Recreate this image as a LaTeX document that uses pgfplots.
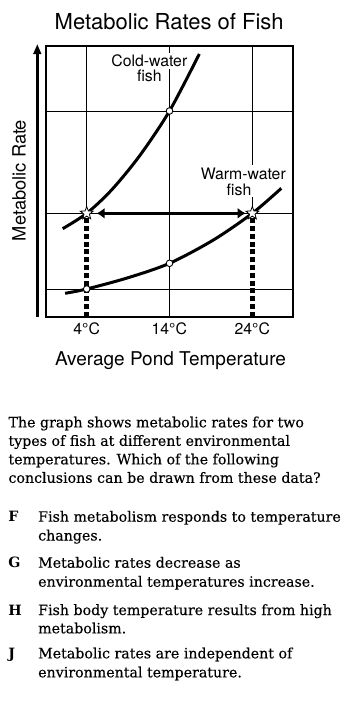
\documentclass[border=0pt]{standalone}
\usepackage{fontspec}
\setmainfont{DejaVu Serif}[UprightFeatures={FakeBold=0.3}]
\newfontfamily\hel{TeX Gyre Heros}
\usepackage{pgfplots}
\pgfplotsset{compat=1.18}
\usetikzlibrary{arrows.meta}

\pgfdeclareplotmark{fstar}{%
 \pgfpathmoveto{\pgfpointpolar{90}{\pgfplotmarksize}}%
 \pgfpathlineto{\pgfpointpolar{126}{0.42\pgfplotmarksize}}%
 \pgfpathlineto{\pgfpointpolar{162}{\pgfplotmarksize}}%
 \pgfpathlineto{\pgfpointpolar{198}{0.42\pgfplotmarksize}}%
 \pgfpathlineto{\pgfpointpolar{234}{\pgfplotmarksize}}%
 \pgfpathlineto{\pgfpointpolar{270}{0.42\pgfplotmarksize}}%
 \pgfpathlineto{\pgfpointpolar{306}{\pgfplotmarksize}}%
 \pgfpathlineto{\pgfpointpolar{342}{0.42\pgfplotmarksize}}%
 \pgfpathlineto{\pgfpointpolar{18}{\pgfplotmarksize}}%
 \pgfpathlineto{\pgfpointpolar{54}{0.42\pgfplotmarksize}}%
 \pgfpathclose
 \pgfusepathqfillstroke}

\newcommand\tx{\fontsize{14.2}{18.5}\selectfont}
\newcommand\lab{\hel\fontsize{15.8}{18}\selectfont}

\begin{document}
\begin{tikzpicture}
\path[use as bounding box] (0pt,0pt) rectangle (356pt,-704pt);
\begin{axis}[at={(46pt,-316.7pt)}, anchor=south west, scale only axis,
  width=247pt, height=271pt,
  xmin=-0.915, xmax=28.915, ymin=0, ymax=27.1,
  xtick={4,14,24}, ytick={2.77,10.34,20.57},
  xticklabels={}, yticklabels={}, major tick length=0pt,
  grid=major, major grid style={black, line width=0.9pt},
  axis line style={line width=2pt}, clip=false]
% white underlay hiding the grid below the stars
\addplot[white, line width=5pt] coordinates {(4,0.4) (4,10.34)};
\addplot[white, line width=5pt] coordinates {(24,0.4) (24,10.34)};
% cold-water fish
\addplot[smooth, line width=3pt] coordinates {(1.1,8.8) (4,10.34) (7.0,12.67) (10.4,16.1) (14,20.57) (17.6,26.27)};
% warm-water fish
\addplot[smooth, line width=3pt] coordinates {(1.4,2.34) (4,2.77) (9,3.9) (14,5.34) (19.3,7.67) (24,10.34) (27.5,12.84)};
% dashed drop lines
\addplot[black, line width=4.5pt, dash pattern=on 5pt off 2.8pt] coordinates {(4,0) (4,10.34)};
\addplot[black, line width=4.5pt, dash pattern=on 5pt off 2.8pt] coordinates {(24,0) (24,10.34)};
% double arrow
\addplot[line width=3.4pt, {Latex[length=8pt,width=11pt]}-{Latex[length=8pt,width=11pt]}] coordinates {(5.2,10.34) (23.2,10.34)};
% circles
\addplot[only marks, mark=*, mark size=3.3pt, mark options={fill=white, draw=black, line width=0.9pt}] coordinates {(14,20.57) (4,2.77) (14,5.34)};
% stars
\addplot[only marks, mark=fstar, mark size=6.8pt, mark options={fill=white, draw=black, line width=0.8pt}] coordinates {(4,10.34) (24,10.34)};
\end{axis}
% axis arrow
\draw[line width=2.5pt, -{Triangle[length=10pt,width=7.5pt]}] (37.3pt,-316.7pt) -- (37.3pt,-44pt);
% labels
\node[font=\hel\fontsize{22}{26}\selectfont, anchor=base] at (169.2pt,-29.3pt) {Metabolic Rates of Fish};
\node[font=\lab, anchor=base, fill=white, inner sep=2pt] at (149.3pt,-66.7pt) {Cold-water};
\node[font=\lab, anchor=base, fill=white, inner sep=2pt] at (149.3pt,-81.7pt) {fish};
\node[font=\lab, anchor=base, fill=white, inner sep=2.5pt] at (243.3pt,-179.3pt) {Warm-water};
\node[font=\lab, anchor=base, fill=white, inner sep=2pt] at (239pt,-195pt) {fish};
\node[font=\lab, anchor=base] at (86.7pt,-334pt) {4°C};
\node[font=\lab, anchor=base] at (169.3pt,-334pt) {14°C};
\node[font=\lab, anchor=base] at (252.3pt,-334pt) {24°C};
\node[font=\hel\fontsize{19}{22}\selectfont, anchor=base] at (170.5pt,-365pt) {Average Pond Temperature};
\node[font=\hel\fontsize{18.3}{21}\selectfont, anchor=base, rotate=90] at (25.5pt,-180.5pt) {Metabolic Rate};
% question text
\node[anchor=base west, inner sep=0] at (8.3pt,-427.3pt) {\tx The graph shows metabolic rates for two};
\node[anchor=base west, inner sep=0] at (8.3pt,-445.8pt) {\tx types of fish at different environmental};
\node[anchor=base west, inner sep=0] at (8.3pt,-464.3pt) {\tx temperatures. Which of the following};
\node[anchor=base west, inner sep=0] at (8.3pt,-482.8pt) {\tx conclusions can be drawn from these data?};
\node[anchor=base west, inner sep=0] at (8.3pt,-521.7pt) {\tx\bfseries F};
\node[anchor=base west, inner sep=0] at (38pt,-521.7pt) {\tx Fish metabolism responds to temperature};
\node[anchor=base west, inner sep=0] at (38pt,-540.5pt) {\tx changes.};
\node[anchor=base west, inner sep=0] at (8.3pt,-567.7pt) {\tx\bfseries G};
\node[anchor=base west, inner sep=0] at (38pt,-567.7pt) {\tx Metabolic rates decrease as};
\node[anchor=base west, inner sep=0] at (38pt,-586.7pt) {\tx environmental temperatures increase.};
\node[anchor=base west, inner sep=0] at (8.3pt,-615pt) {\tx\bfseries H};
\node[anchor=base west, inner sep=0] at (38pt,-615pt) {\tx Fish body temperature results from high};
\node[anchor=base west, inner sep=0] at (38pt,-633.3pt) {\tx metabolism.};
\node[anchor=base west, inner sep=0] at (8.3pt,-658.3pt) {\tx\bfseries J};
\node[anchor=base west, inner sep=0] at (38pt,-658.3pt) {\tx Metabolic rates are independent of};
\node[anchor=base west, inner sep=0] at (38pt,-677.3pt) {\tx environmental temperature.};
\end{tikzpicture}
\end{document}
